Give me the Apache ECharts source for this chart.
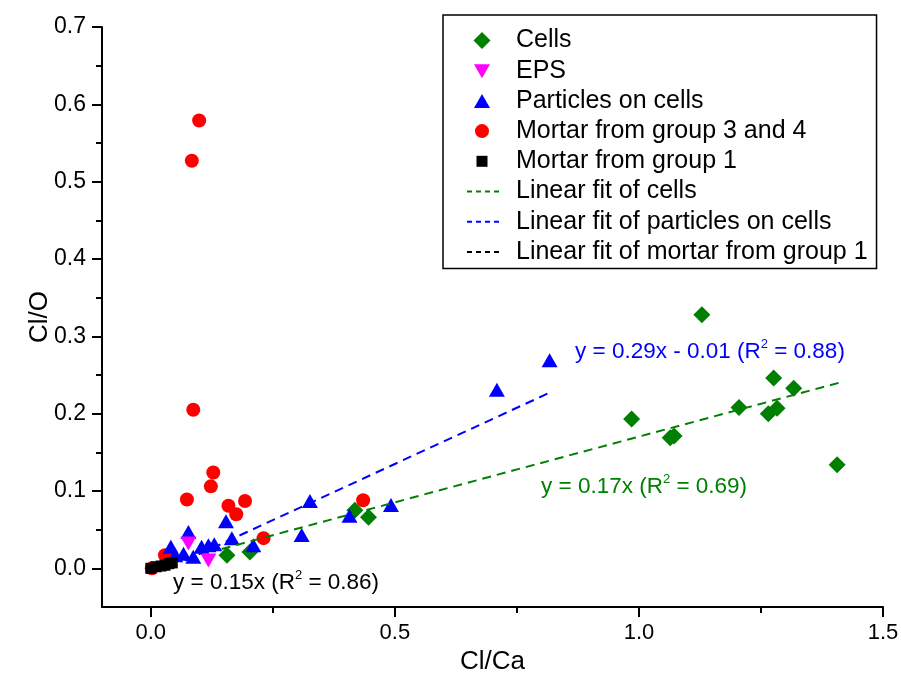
<!DOCTYPE html>
<html>
<head>
<meta charset="utf-8">
<script src="https://cdn.jsdelivr.net/npm/echarts@6/dist/echarts.min.js"></script>
<style>
html,body{margin:0;padding:0;background:#fff;}
#chart{width:901px;height:678px;}
</style>
</head>
<body>
<div id="chart"></div>
<script>
// ---- Data ----
var cellsX = [1.129, 1.276, 1.317, 1.205, 1.283, 1.265, 0.985, 1.064, 1.072, 1.406, 0.418, 0.446, 0.156, 0.203];
var cellsY = [0.328, 0.246, 0.233, 0.208, 0.207, 0.200, 0.193, 0.169, 0.171, 0.134, 0.075, 0.066, 0.017, 0.021];

var epsX = [0.077, 0.118];
var epsY = [0.032, 0.010];

var particlesX = [0.817, 0.709, 0.326, 0.407, 0.492, 0.309, 0.154, 0.166, 0.210, 0.077, 0.041, 0.067, 0.087, 0.104, 0.118, 0.130, 0.050];
var particlesY = [0.269, 0.231, 0.087, 0.068, 0.082, 0.043, 0.061, 0.039, 0.030, 0.047, 0.028, 0.019, 0.015, 0.028, 0.030, 0.031, 0.017];

var mortar34X = [0.099, 0.084, 0.087, 0.128, 0.123, 0.074, 0.193, 0.159, 0.175, 0.231, 0.435, 0.029, 0.039, 0.002];
var mortar34Y = [0.579, 0.527, 0.205, 0.124, 0.106, 0.089, 0.087, 0.081, 0.070, 0.039, 0.088, 0.017, 0.015, 0.000];

var mortar1X = [0.000, 0.011, 0.021, 0.029, 0.037, 0.044];
var mortar1Y = [0.000, 0.002, 0.003, 0.004, 0.006, 0.007];

// fitted lines: endpoints
var fitCellsX = [0.145, 1.41];
var fitCellsY = [0.025, 0.240];
var fitPartX = [0.07, 0.82];
var fitPartY = [0.010, 0.228];
var fitMortar1X = [0.0, 0.045];
var fitMortar1Y = [0.0, 0.007];

var xMajorTicks = [0, 0.5, 1.0, 1.5];
var xMinorTicks = [0.25, 0.75, 1.25];
var yMajorTicks = [0, 0.1, 0.2, 0.3, 0.4, 0.5, 0.6, 0.7];
var yMinorTicks = [0.05, 0.15, 0.25, 0.35, 0.45, 0.55, 0.65];

var names = ['Cells', 'EPS', 'Particles on cells', 'Mortar from group 3 and 4', 'Mortar from group 1',
  'Linear fit of cells', 'Linear fit of particles on cells', 'Linear fit of mortar from group 1'];

function zip(xs, ys) { return xs.map(function (x, i) { return [x, ys[i]]; }); }

var FONT = '"Liberation Sans", Arial, sans-serif';
var GREEN = '#008000', BLUE = '#0000ff', RED = '#ff0000', MAGENTA = '#ff00ff', BLACK = '#000000';
var CLEAR = 'rgba(0,0,0,0)';

// legend icons drawn inside a 34x17 box (anchor moves keep their aspect)
var ANCHOR = 'M0,0M34,17';
var legendIcons = [
  'path://' + ANCHOR + 'M15,0L23.5,8.5L15,17L6.5,8.5Z',
  'path://' + ANCHOR + 'M7,2L23,2L15,16Z',
  'path://' + ANCHOR + 'M15,1.5L23,15.5L7,15.5Z',
  'path://' + ANCHOR + 'M8,8.5A7,7,0,1,1,22,8.5A7,7,0,1,1,8,8.5Z',
  'path://' + ANCHOR + 'M9.5,3L20.5,3L20.5,14L9.5,14Z'
];

var chart = echarts.init(document.getElementById('chart'), null, {renderer: 'canvas'});

function axisBase(min, max, pos) {
  return {
    type: 'value', min: min, max: max, position: pos,
    splitLine: {show: false}
  };
}

var legendData = names.map(function (n, i) {
  var item = {name: n};
  if (i < 5) { item.icon = legendIcons[i]; }
  else { item.itemStyle = {color: CLEAR, borderColor: CLEAR, borderWidth: 0, opacity: 0}; }
  return item;
});

var option = {
  backgroundColor: '#ffffff',
  animation: false,
  grid: {left: 102, right: 18, top: 27, bottom: 71, containLabel: false, outerBoundsMode: 'none'},
  xAxis: [
    Object.assign(axisBase(-0.1, 1.5, 'bottom'), {
      axisLine: {show: true, onZero: false, lineStyle: {color: BLACK, width: 2}},
      axisTick: {show: true, customValues: xMajorTicks, length: 10, lineStyle: {color: BLACK, width: 2}},
      axisLabel: {customValues: xMajorTicks, formatter: function (v) { return v.toFixed(1); },
        fontSize: 22, fontFamily: FONT, color: BLACK, margin: 15},
      name: 'Cl/Ca', nameLocation: 'middle', nameGap: 42, nameMoveOverlap: false,
      nameTextStyle: {fontSize: 26, fontFamily: FONT, color: BLACK}
    }),
    Object.assign(axisBase(-0.1, 1.5, 'bottom'), {
      axisLine: {show: false, onZero: false},
      axisTick: {show: true, customValues: xMinorTicks, length: 6, lineStyle: {color: BLACK, width: 2}},
      axisLabel: {show: false}
    })
  ],
  yAxis: [
    Object.assign(axisBase(-0.05, 0.7, 'left'), {
      axisLine: {show: true, onZero: false, lineStyle: {color: BLACK, width: 2}},
      axisTick: {show: true, customValues: yMajorTicks, length: 10, lineStyle: {color: BLACK, width: 2}},
      axisLabel: {customValues: yMajorTicks, formatter: function (v) { return v.toFixed(1); },
        fontSize: 23, fontFamily: FONT, color: BLACK, margin: 16},
      name: 'Cl/O', nameLocation: 'middle', nameGap: 49, nameMoveOverlap: false,
      nameTextStyle: {fontSize: 26, fontFamily: FONT, color: BLACK}
    }),
    Object.assign(axisBase(-0.05, 0.7, 'left'), {
      axisLine: {show: false, onZero: false},
      axisTick: {show: true, customValues: yMinorTicks, length: 6, lineStyle: {color: BLACK, width: 2}},
      axisLabel: {show: false}
    })
  ],
  legend: {
    orient: 'vertical', left: 443, top: 15,
    padding: [13, 9, 4, 23],
    borderColor: BLACK, borderWidth: 1.5,
    itemWidth: 34, itemHeight: 17, itemGap: 5.2,
    textStyle: {fontSize: 25, fontFamily: FONT, color: BLACK, lineHeight: 25, padding: [0, 0, 0, 10]},
    lineStyle: {type: [5, 4], width: 2},
    data: legendData
  },
  series: [
    {name: names[3], type: 'scatter', symbol: 'circle', symbolSize: 14, z: 2,
      itemStyle: {color: RED, opacity: 1}, data: zip(mortar34X, mortar34Y)},
    {name: names[0], type: 'scatter', symbol: 'diamond', symbolSize: 17, z: 3,
      itemStyle: {color: GREEN, opacity: 1}, data: zip(cellsX, cellsY)},
    {name: names[2], type: 'scatter', symbol: 'triangle', symbolSize: [16, 14], z: 4,
      itemStyle: {color: BLUE, opacity: 1}, data: zip(particlesX, particlesY)},
    {name: names[1], type: 'scatter', symbol: 'path://M0,0 L20,0 L10,17 Z', symbolSize: [16, 14], z: 5,
      itemStyle: {color: MAGENTA, opacity: 1}, data: zip(epsX, epsY)},
    {name: names[4], type: 'scatter', symbol: 'rect', symbolSize: 11, z: 6,
      itemStyle: {color: BLACK, opacity: 1}, data: zip(mortar1X, mortar1Y)},
    {name: names[5], type: 'line', symbol: 'none', z: 7,
      lineStyle: {color: GREEN, width: 2, type: [9, 6]}, itemStyle: {color: CLEAR},
      data: zip(fitCellsX, fitCellsY)},
    {name: names[6], type: 'line', symbol: 'none', z: 7,
      lineStyle: {color: BLUE, width: 2, type: [9, 6]}, itemStyle: {color: CLEAR},
      data: zip(fitPartX, fitPartY)},
    {name: names[7], type: 'line', symbol: 'none', z: 7,
      lineStyle: {color: BLACK, width: 2, type: [9, 6]}, itemStyle: {color: CLEAR},
      data: zip(fitMortar1X, fitMortar1Y)}
  ],
  graphic: [
    {type: 'text', left: 575, top: 338, z: 100, style: {
      text: '{a|y = 0.29x - 0.01 (R}{s|2}{a| = 0.88)}', fill: BLUE,
      rich: {a: {fontSize: 22.5, fontFamily: FONT, fill: BLUE, lineHeight: 28},
             s: {fontSize: 13, fontFamily: FONT, fill: BLUE, verticalAlign: 'top', lineHeight: 14}}}},
    {type: 'text', left: 541, top: 473, z: 100, style: {
      text: '{a|y = 0.17x (R}{s|2}{a| = 0.69)}', fill: GREEN,
      rich: {a: {fontSize: 22.5, fontFamily: FONT, fill: GREEN, lineHeight: 28},
             s: {fontSize: 13, fontFamily: FONT, fill: GREEN, verticalAlign: 'top', lineHeight: 14}}}},
    {type: 'text', left: 173, top: 569, z: 100, style: {
      text: '{a|y = 0.15x (R}{s|2}{a| = 0.86)}', fill: BLACK,
      rich: {a: {fontSize: 22.5, fontFamily: FONT, fill: BLACK, lineHeight: 28},
             s: {fontSize: 13, fontFamily: FONT, fill: BLACK, verticalAlign: 'top', lineHeight: 14}}}}
  ]
};
chart.setOption(option);
</script>
</body>
</html>
